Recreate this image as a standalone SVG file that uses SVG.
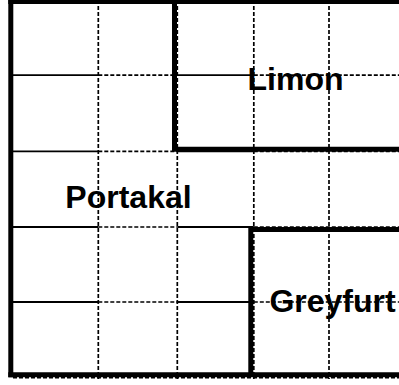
<svg xmlns="http://www.w3.org/2000/svg" width="399" height="385" viewBox="0 0 399 385">
  <style>
    .solid { stroke: #000; stroke-width: 1.8; fill: none; }
    .dash { stroke: #000; stroke-width: 1.7; fill: none; stroke-dasharray: 4 2; }
    .thick { stroke: #000; stroke-width: 5; fill: none; stroke-linecap: butt; }
    .lbl { font-family: "Liberation Sans", Arial, sans-serif; font-weight: bold; font-size: 32px; fill: #000; text-anchor: middle; }
  </style>
  <rect x="0" y="0" width="399" height="385" fill="#fff"/>
  <g id="grid">
    <!-- vertical dashed lines -->
    <line class="dash" x1="98.3" y1="0" x2="98.3" y2="379"/>
    <line class="dash" x1="177.3" y1="0" x2="177.3" y2="379"/>
    <line class="dash" x1="253.8" y1="0" x2="253.8" y2="379"/>
    <line class="dash" x1="329" y1="0" x2="329" y2="379"/>
    <!-- horizontal lines: solid in columns 1 and 3, dashed elsewhere -->
    <g id="row1">
      <line class="solid" x1="13" y1="75.2" x2="98.3" y2="75.2"/>
      <line class="dash" x1="98.3" y1="75.2" x2="177.3" y2="75.2"/>
      <line class="solid" x1="177.3" y1="75.2" x2="253.8" y2="75.2"/>
      <line class="dash" x1="253.8" y1="75.2" x2="399" y2="75.2"/>
    </g>
    <g id="row2">
      <line class="solid" x1="13" y1="151.3" x2="98.3" y2="151.3"/>
      <line class="dash" x1="98.3" y1="151.3" x2="177.3" y2="151.3"/>
      <line class="solid" x1="177.3" y1="151.3" x2="253.8" y2="151.3"/>
      <line class="dash" x1="253.8" y1="151.3" x2="399" y2="151.3"/>
    </g>
    <g id="row3">
      <line class="solid" x1="13" y1="227" x2="98.3" y2="227"/>
      <line class="dash" x1="98.3" y1="227" x2="177.3" y2="227"/>
      <line class="solid" x1="177.3" y1="227" x2="253.8" y2="227"/>
      <line class="dash" x1="253.8" y1="227" x2="399" y2="227"/>
    </g>
    <g id="row4">
      <line class="solid" x1="13" y1="302" x2="98.3" y2="302"/>
      <line class="dash" x1="98.3" y1="302" x2="177.3" y2="302"/>
      <line class="solid" x1="177.3" y1="302" x2="253.8" y2="302"/>
      <line class="dash" x1="253.8" y1="302" x2="399" y2="302"/>
    </g>
    <line class="dash" x1="13" y1="377.6" x2="399" y2="377.6"/>
  </g>
  <g id="frame">
    <line class="thick" x1="8.3" y1="1.5" x2="399" y2="1.5"/>
    <line class="thick" x1="10.8" y1="-1" x2="10.8" y2="377.2"/>
    <line class="thick" x1="8.3" y1="374.7" x2="399" y2="374.7"/>
  </g>
  <g id="limon">
    <polyline class="thick" points="174.5,0 174.5,149.2 399,149.2"/>
    <text class="lbl" x="295.5" y="90">Limon</text>
  </g>
  <g id="portakal">
    <text class="lbl" x="128.5" y="208.3">Portakal</text>
  </g>
  <g id="greyfurt">
    <polyline class="thick" points="250.8,377 250.8,229.5 399,229.5"/>
    <text class="lbl" x="332.5" y="312">Greyfurt</text>
  </g>
</svg>
